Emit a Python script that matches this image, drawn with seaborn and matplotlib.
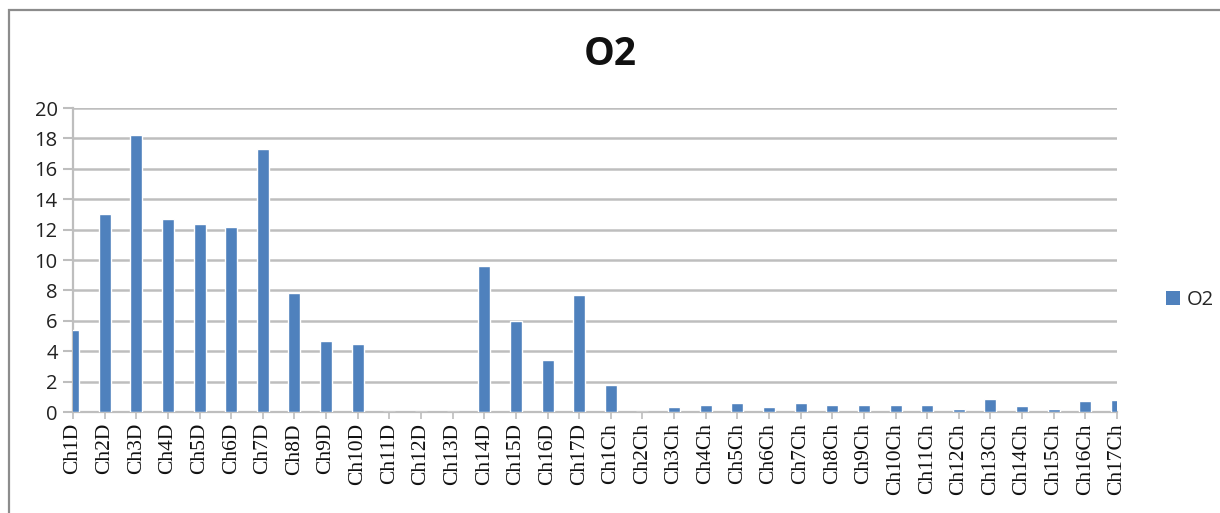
import matplotlib
matplotlib.use("Agg")
import matplotlib.pyplot as plt
from matplotlib.patches import Patch, Rectangle
import seaborn as sns
import pandas as pd

# O2 readings per channel: daytime (D) and channel-side (Ch) samples
channels = [
    "Ch1D", "Ch2D", "Ch3D", "Ch4D", "Ch5D", "Ch6D", "Ch7D", "Ch8D", "Ch9D",
    "Ch10D", "Ch11D", "Ch12D", "Ch13D", "Ch14D", "Ch15D", "Ch16D", "Ch17D",
    "Ch1Ch", "Ch2Ch", "Ch3Ch", "Ch4Ch", "Ch5Ch", "Ch6Ch", "Ch7Ch", "Ch8Ch",
    "Ch9Ch", "Ch10Ch", "Ch11Ch", "Ch12Ch", "Ch13Ch", "Ch14Ch", "Ch15Ch",
    "Ch16Ch", "Ch17Ch",
]
o2_values = [
    5.4, 13.0, 18.2, 12.7, 12.4, 12.2, 17.3, 7.8, 4.7,
    4.5, 0.0, 0.0, 0.0, 9.6, 6.0, 3.4, 7.7,
    1.75, 0.0, 0.3, 0.45, 0.6, 0.35, 0.6, 0.45,
    0.45, 0.45, 0.45, 0.2, 0.85, 0.4, 0.2,
    0.75, 0.8,
]
y_ticks = [0, 2, 4, 6, 8, 10, 12, 14, 16, 18, 20]
series_name = "O2"

bar_color = "#4F81BD"
grid_color = "#BEBEBE"

df = pd.DataFrame({"channel": channels, "value": o2_values})

sns.set_style("white")
fig = plt.figure(figsize=(12.2, 5.13), dpi=100)

# thin chart frame on the left and top
fig.patches.append(Rectangle((9 / 1220, -0.05), 1.2, 1 - 10 / 513 + 0.05,
                             transform=fig.transFigure, fill=False,
                             edgecolor="#8C8C8C", linewidth=1.6, zorder=0))

ax = fig.add_axes([73 / 1220, 1 - 412 / 513, (1117 - 73) / 1220, (412 - 108) / 513])

sns.barplot(data=df, x="channel", y="value", color=bar_color, width=0.38,
            saturation=1, ax=ax, zorder=3)

ax.set_xlim(0, len(channels) - 1)
ax.set_ylim(0, 20)
ax.set_yticks(y_ticks)
ax.set_yticklabels([str(t) for t in y_ticks], fontsize=14.5, family="Open Sans",
                   color="#222222")
ax.set_xticks(range(len(channels)))
ax.set_xticklabels(channels, rotation=90, fontsize=15.5, family="Liberation Serif",
                   color="#111111")
ax.set_xlabel("")
ax.set_ylabel("")

ax.yaxis.grid(True, color=grid_color, linewidth=1.8, zorder=0)
ax.xaxis.grid(False)
ax.set_axisbelow(True)
for side in ("top", "right"):
    ax.spines[side].set_visible(False)
for side in ("left", "bottom"):
    ax.spines[side].set_color(grid_color)
    ax.spines[side].set_linewidth(1.6)
ax.tick_params(axis="y", length=7, color=grid_color, width=1.5, pad=4, left=True)
ax.tick_params(axis="x", length=5, color=grid_color, width=1.2, pad=3, bottom=True)

fig.text(610 / 1220, 1 - 55 / 513, "O2", ha="center", va="center",
         fontsize=28, fontweight="bold", family="Open Sans", color="#111111")

handles = [Patch(facecolor=bar_color, edgecolor="none", label=series_name)]
fig.legend(handles=handles, loc="center left", bbox_to_anchor=(1148 / 1220, 1 - 300 / 513),
           frameon=False, handlelength=0.7, handleheight=0.7,
           handletextpad=0.3, prop={"family": "Open Sans", "size": 14.5})

fig.savefig("out.png", dpi=100)
